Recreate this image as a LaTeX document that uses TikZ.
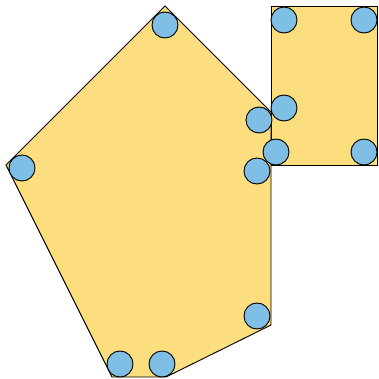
\documentclass[tikz,border=0pt]{standalone}
\usepackage{xcolor}
\usepackage{tikz}
\usetikzlibrary{shapes,positioning,calc}

\definecolor{tileyellow}{HTML}{FDDE7E}
\definecolor{pinblue}{HTML}{7FBFE5}

\begin{document}
\begin{tikzpicture}[
    x=0.0265cm, y=-0.0265cm,
    tile/.style={draw=black, line width=0.7pt, fill=tileyellow, line join=miter},
    pin/.style={circle, draw=black, line width=0.7pt, fill=pinblue,
                minimum size=0.69cm, inner sep=0pt}
  ]
  \useasboundingbox (0,0) rectangle (379,378);

  % Rectangular tile
  \draw[tile] (271,6) rectangle (377,165);

  % Pentagon-like tile
  \draw[tile] (165,6) -- (271,112) -- (271,325) -- (166,377)
              -- (112,377) -- (6,165) -- cycle;

  % Pins on the rectangle
  \node[pin] (rtl) at (284,20) {};
  \node[pin] (rtr) at (364,20) {};
  \node[pin] (rml) at (284,108) {};
  \node[pin] (rbl) at (276,152) {};
  \node[pin] (rbr) at (364,152) {};

  % Pins on the big tile
  \node[pin] (ptop) at (165,25) {};
  \node[pin] (pleft) at (22,168) {};
  \node[pin] (pnotch) at (259,120) {};
  \node[pin] (pmid) at (257,171) {};
  \node[pin] (plow) at (257,316) {};
  \node[pin] (pbotl) at (120,364) {};
  \node[pin] (pbotr) at (162,364) {};

\end{tikzpicture}
\end{document}
